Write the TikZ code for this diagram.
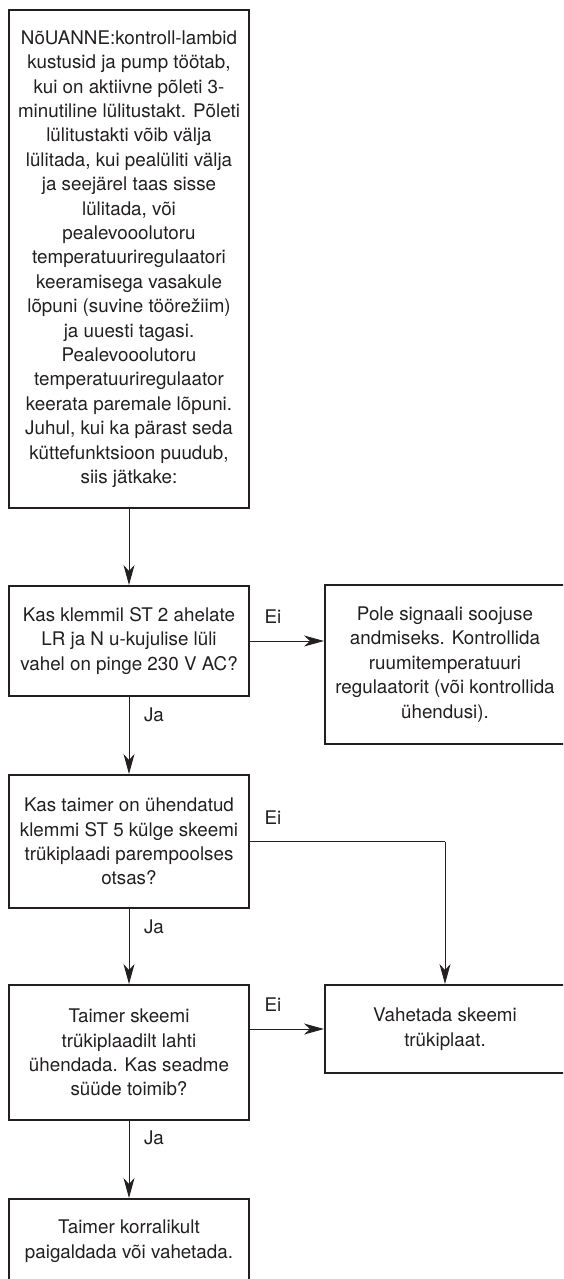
\documentclass[tikz,border=0pt]{standalone}
\usepackage{fontspec}
\setmainfont{TeX Gyre Heros}
\usetikzlibrary{arrows.meta}
\definecolor{ink}{HTML}{231F20}
\begin{document}
\begin{tikzpicture}[x=1pt,y=-1pt,
  box/.style={draw=ink, line width=2pt, minimum width=240pt, align=center,
    inner sep=0pt, font=\fontsize{18.8}{24.4}\selectfont, text=ink},
  conn/.style={draw=ink, line width=1pt, -{Stealth[length=20pt,width=11pt,inset=6pt]}},
  plain/.style={draw=ink, line width=1pt},
  lbl/.style={font=\fontsize{18.8}{24.4}\selectfont, text=ink, inner sep=0pt}]
\useasboundingbox (0,0) rectangle (563,1279);
\clip (0,0) rectangle (563,1279);

\node[box, minimum height=498pt] (b1) at (129,259) {N\~oUANNE:kontroll-lambid\\kustusid ja pump töötab,\\kui on aktiivne põleti 3-\\minutiline lülitustakt. Põleti\\lülitustakti võib välja\\lülitada, kui pealüliti välja\\ja seejärel taas sisse\\lülitada, või\\pealevooolutoru\\temperatuuriregulaatori\\keeramisega vasakule\\lõpuni (suvine töörežiim)\\ja uuesti tagasi.\\Pealevooolutoru\\temperatuuriregulaator\\keerata paremale lõpuni.\\Juhul, kui ka pärast seda\\küttefunktsioon puudub,\\siis jätkake:};

\node[box, minimum height=110pt] (b2) at (129,641) {Kas klemmil ST 2 ahelate\\LR ja N u-kujulise lüli\\vahel on pinge 230 V AC?};

\node[box, minimum height=159pt] (r1) at (445,664.5) {Pole signaali soojuse\\andmiseks. Kontrollida\\ruumitemperatuuri\\regulaatorit (või kontrollida\\ühendusi).};

\node[box, minimum height=133pt] (b3) at (129,841.5) {Kas taimer on ühendatud\\klemmi ST 5 külge skeemi\\trükiplaadi parempoolses\\otsas?};

\node[box, minimum height=135pt] (b4) at (129,1052.5) {Taimer skeemi\\trükiplaadilt lahti\\ühendada. Kas seadme\\süüde toimib?};

\node[box, minimum height=88pt] (r2) at (445,1029) {Vahetada skeemi\\trükiplaat.};

\node[box, minimum height=84pt] (b5) at (129,1241) {Taimer korralikult\\paigaldada või vahetada.};

\draw[conn] (b1.south) -- (b2.north);
\draw[conn] (b2.east) -- (b2.east -| r1.west);
\draw[conn] (b2.south) -- (b3.north);
\coordinate (c1) at (b3.east -| r2.north);
\draw[plain] (b3.east) -- (c1);
\draw[conn] (c1) -- (r2.north);
\draw[conn] (b3.south) -- (b4.north);
\draw[conn] (r2.west -| b4.east) -- (r2.west);
\draw[conn] (b4.south) -- (b5.north);

\node[lbl] (ei1) at (273,617) {Ei};
\node[lbl] (ja1) at (154,715) {Ja};
\node[lbl] (ei2) at (273,818) {Ei};
\node[lbl] (ja2) at (154,927) {Ja};
\node[lbl] (ei3) at (273,1005) {Ei};
\node[lbl] (ja3) at (154,1138) {Ja};
\end{tikzpicture}
\end{document}
